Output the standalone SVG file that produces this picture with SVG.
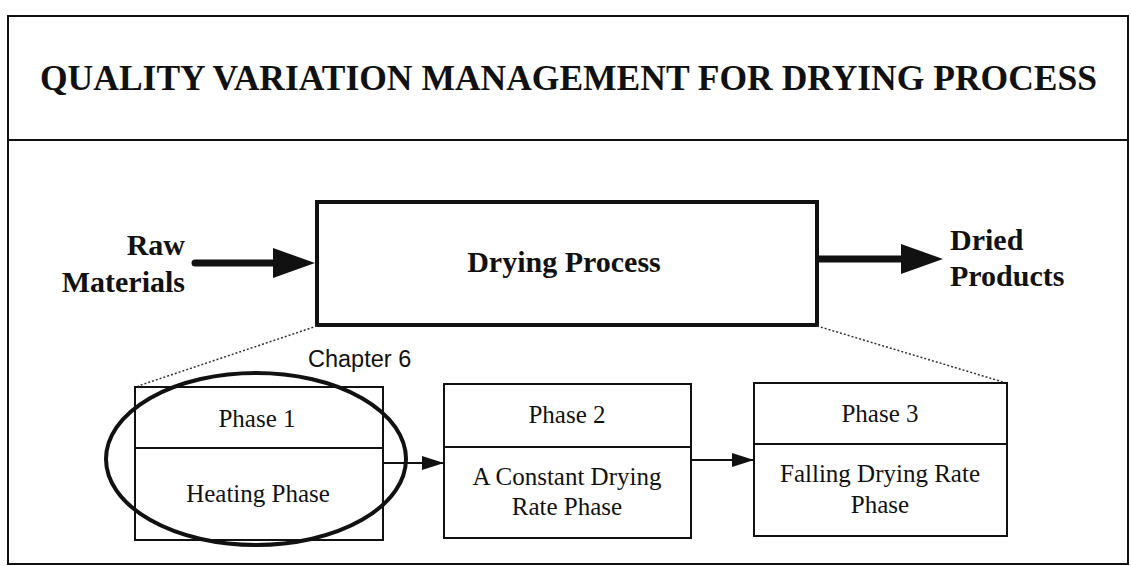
<svg xmlns="http://www.w3.org/2000/svg" width="1131" height="566" viewBox="0 0 1131 566">
<style>
text{font-family:"Liberation Serif","Times New Roman",serif;fill:#111}
.title{font-size:35.5px;font-weight:bold}
.big{font-size:30px;font-weight:bold}
.ph{font-size:25px}
.chap{font-family:"Liberation Sans",Arial,sans-serif;font-size:23.5px}
.box{fill:none;stroke:#111;stroke-width:2}
.thick{fill:none;stroke:#111;stroke-width:4}
.dot{fill:none;stroke:#333;stroke-width:1.5;stroke-dasharray:2 2}
</style>
<defs>
<marker id="bighead" markerUnits="userSpaceOnUse" markerWidth="42" markerHeight="30" refX="27" refY="15" orient="auto"><path d="M0,0 L42,15 L0,30 z" fill="#111"/></marker>
<marker id="smallhead" markerUnits="userSpaceOnUse" markerWidth="22" markerHeight="14" refX="22" refY="7" orient="auto"><path d="M0,0 L22,7 L0,14 z" fill="#111"/></marker>
</defs>
<rect x="0" y="0" width="1131" height="566" fill="#fff"/>
<g id="frame">
<rect x="8" y="16" width="1120" height="548" class="box"/>
<line x1="8" y1="140" x2="1128" y2="140" stroke="#111" stroke-width="2"/>
<text class="title" x="40" y="90">QUALITY VARIATION MANAGEMENT FOR DRYING PROCESS</text>
</g>
<g id="raw">
<text class="big" x="185" y="255" text-anchor="end">Raw</text>
<text class="big" x="185" y="292" text-anchor="end">Materials</text>
</g>
<g id="dried">
<text class="big" x="950" y="250">Dried</text>
<text class="big" x="950" y="286">Products</text>
</g>
<g id="drying">
<rect x="317" y="202" width="500" height="123" class="thick"/>
<text class="big" x="564" y="272" text-anchor="middle">Drying Process</text>
</g>
<g id="phase1">
<rect x="135" y="387" width="248" height="153" class="box"/>
<line x1="135" y1="448" x2="383" y2="448" stroke="#111" stroke-width="2"/>
<text class="ph" x="257" y="427" text-anchor="middle">Phase 1</text>
<text class="ph" x="258" y="502" text-anchor="middle">Heating Phase</text>
</g>
<g id="phase2">
<rect x="444" y="384" width="247" height="154" class="box"/>
<line x1="444" y1="447" x2="691" y2="447" stroke="#111" stroke-width="2"/>
<text class="ph" x="567" y="423" text-anchor="middle">Phase 2</text>
<text class="ph" x="567" y="485" text-anchor="middle">A Constant Drying</text>
<text class="ph" x="567" y="515" text-anchor="middle">Rate Phase</text>
</g>
<g id="phase3">
<rect x="754" y="383" width="253" height="153" class="box"/>
<line x1="754" y1="444" x2="1007" y2="444" stroke="#111" stroke-width="2"/>
<text class="ph" x="880" y="422" text-anchor="middle">Phase 3</text>
<text class="ph" x="880" y="482" text-anchor="middle">Falling Drying Rate</text>
<text class="ph" x="880" y="513" text-anchor="middle">Phase</text>
</g>
<g id="chapter6">
<text class="chap" x="308" y="367">Chapter 6</text>
<ellipse cx="256" cy="459" rx="150" ry="86" class="thick"/>
</g>
<g id="connectors">
<line x1="195" y1="263" x2="300" y2="263" stroke="#111" stroke-width="7" stroke-linecap="round" marker-end="url(#bighead)"/>
<line x1="817" y1="259" x2="928" y2="259" stroke="#111" stroke-width="7" marker-end="url(#bighead)"/>
<line x1="383" y1="463" x2="444" y2="463" stroke="#111" stroke-width="2" marker-end="url(#smallhead)"/>
<line x1="691" y1="460" x2="754" y2="460" stroke="#111" stroke-width="2" marker-end="url(#smallhead)"/>
<line x1="317" y1="326" x2="138" y2="386" class="dot"/>
<line x1="817" y1="326" x2="1003" y2="382" class="dot"/>
</g>
</svg>
